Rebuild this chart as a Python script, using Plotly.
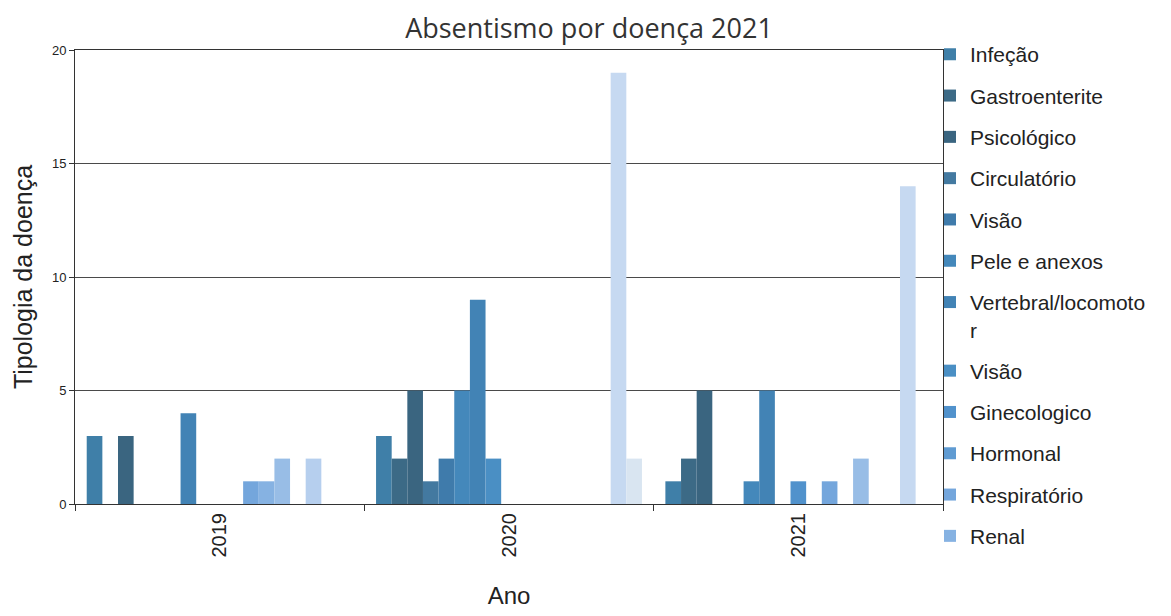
import plotly.graph_objects as go

# Categorias (anos) e séries de doença
anos = ["2019", "2020", "2021"]

doencas = [
    "Infeção", "Gastroenterite", "Psicológico", "Circulatório", "Visão",
    "Pele e anexos", "Vertebral/locomoto<br>r", "Visão ", "Ginecologico",
    "Hormonal", "Respiratório", "Renal",
    "Série 13", "Série 14", "Série 15", "Série 16", "Série 17",
]
# Apenas as 12 primeiras séries aparecem na legenda
na_legenda = [True] * 12 + [False] * 5

# Número de casos por série, em cada ano
casos_2019 = [3, 0, 3, 0, 0, 0, 4, 0, 0, 0, 1, 1, 2, 0, 2, 0, 0]
casos_2020 = [3, 2, 5, 1, 2, 5, 9, 2, 0, 0, 0, 0, 0, 0, 0, 19, 2]
casos_2021 = [1, 2, 5, 0, 0, 1, 5, 0, 1, 0, 1, 0, 2, 0, 0, 14, 0]

cores = [
    "#3f7fa8", "#3c6a86", "#3a6580", "#4379a0", "#3f7bab",
    "#4488bb", "#4283b5", "#4a8fc4", "#5192cc", "#5f9bd2",
    "#74a6dc", "#86b2e2", "#98bde6", "#a9c8ea", "#b6cfee",
    "#c6d9f1", "#d9e5f1",
]

fig = go.Figure()
for i, nome in enumerate(doencas):
    fig.add_trace(go.Bar(
        x=anos,
        y=[casos_2019[i], casos_2020[i], casos_2021[i]],
        name=nome,
        legendgroup=f"g{i}",
        showlegend=na_legenda[i],
        marker=dict(color=cores[i], line=dict(width=0)),
    ))

fonte = "Liberation Sans, Arial, sans-serif"

fig.update_layout(
    width=1171, height=616,
    margin=dict(l=75, r=228, t=50, b=110),
    paper_bgcolor="white", plot_bgcolor="white",
    barmode="group", bargap=0.081, bargroupgap=0,
    title=dict(
        text="Absentismo por doença 2021",
        x=589 / 1171, xref="container", xanchor="center",
        y=1 - 29 / 616, yanchor="middle",
        font=dict(family="Open Sans, sans-serif", size=27, color="#333"),
    ),
    legend=dict(
        x=0.985, xanchor="left", y=1.035, yanchor="top",
        font=dict(family=fonte, size=21, color="#222"),
        tracegroupgap=11, itemwidth=30, valign="top",
        bgcolor="rgba(0,0,0,0)",
        maxheight=600,
    ),
    showlegend=True,
)

fig.update_xaxes(
    type="category",
    tickangle=-90,
    tickfont=dict(family=fonte, size=20, color="#222"),
    ticks="outside", tickson="boundaries", ticklen=6, tickcolor="#333",
    showline=True, linecolor="#333", linewidth=1, mirror=True,
    showgrid=False,
    title=dict(text="Ano", font=dict(family=fonte, size=24, color="#222"), standoff=30),
)
fig.update_yaxes(
    range=[0, 20], dtick=5,
    tickfont=dict(family=fonte, size=13, color="#222"),
    ticks="outside", ticklen=5, tickcolor="#333",
    showline=True, linecolor="#333", linewidth=1, mirror=True,
    showgrid=True, gridcolor="#4a4a4a", gridwidth=1,
    zeroline=False,
    title=dict(text="Tipologia da doença", font=dict(family=fonte, size=25, color="#222"), standoff=12),
)

fig.write_html("out.html")
